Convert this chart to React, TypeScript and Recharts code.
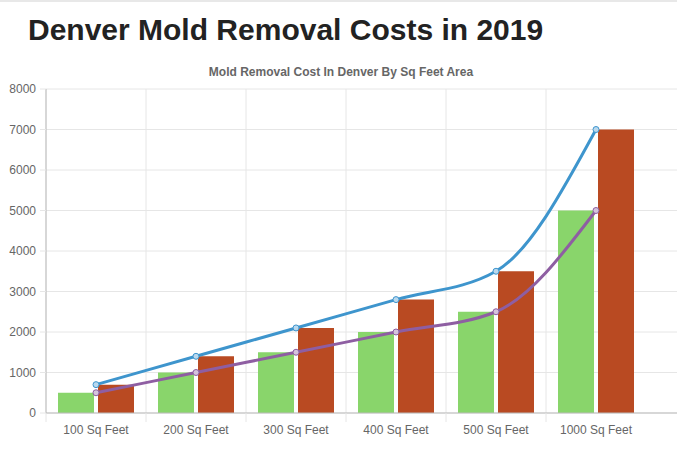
import React from "react";
import {
  ComposedChart,
  Bar,
  Line,
  XAxis,
  YAxis,
  CartesianGrid,
} from "recharts";

// values
const categories = [
  "100 Sq Feet",
  "200 Sq Feet",
  "300 Sq Feet",
  "400 Sq Feet",
  "500 Sq Feet",
  "1000 Sq Feet",
];
const lowCost = [500, 1000, 1500, 2000, 2500, 5000];
const highCost = [700, 1400, 2100, 2800, 3500, 7000];
const yTicks = [0, 1000, 2000, 3000, 4000, 5000, 6000, 7000, 8000];

const data = categories.map((name, i) => ({
  name,
  low: lowCost[i],
  high: highCost[i],
  lowLine: lowCost[i],
  highLine: highCost[i],
}));

const FONT = "'Liberation Sans', Arial, Helvetica, sans-serif";
const GRID = "#e6e6e6";
const PAD_RIGHT = 31;
const TICK_SIZE = 9;
const TICK_MARGIN = 3;

const EdgeTick = (props: any) => {
  const { x, y, payload } = props;
  const half = payload?.offset ?? 0;
  const top = y - TICK_SIZE - TICK_MARGIN;
  return (
    <g>
      <line x1={x - half} x2={x - half} y1={top} y2={top + TICK_SIZE} stroke={GRID} />
      <text
        x={x}
        y={y}
        dy="0.71em"
        textAnchor="middle"
        fill="#666"
        fontSize={12}
        fontFamily={FONT}
      >
        {payload.value}
      </text>
    </g>
  );
};

const App = () => {
  return (
    <div
      style={{
        position: "absolute",
        left: 0,
        top: 0,
        width: 677,
        height: 454,
        background: "#fff",
        overflow: "hidden",
        borderTop: "2px solid #e8e8e8",
        boxSizing: "border-box",
        fontFamily: FONT,
      }}
    >
      <div
        style={{
          position: "absolute",
          left: 28,
          top: 13,
          fontSize: 30,
          lineHeight: "30px",
          fontWeight: 700,
          color: "#222",
          whiteSpace: "nowrap",
        }}
      >
        Denver Mold Removal Costs in 2019
      </div>
      <div
        style={{
          position: "absolute",
          left: 0,
          width: 682,
          top: 64,
          fontSize: 12,
          lineHeight: "12px",
          fontWeight: 700,
          color: "#666",
          textAlign: "center",
        }}
      >
        Mold Removal Cost In Denver By Sq Feet Area
      </div>
      <div style={{ position: "absolute", left: 0, top: -2 }}>
        <ComposedChart
          width={677}
          height={454}
          data={data}
          margin={{ top: 89, right: 0, bottom: 0, left: 0 }}
          barCategoryGap="12%"
          barGap={4}
        >
          <CartesianGrid
            stroke={GRID}
            verticalCoordinatesGenerator={({ offset }: any) =>
              categories.map(
                (_, i) =>
                  offset.left + (i * (offset.width - PAD_RIGHT)) / categories.length
              )
            }
          />
          <XAxis
            dataKey="name"
            height={41}
            padding={{ left: 0, right: PAD_RIGHT }}
            tickLine={false}
            tickSize={TICK_SIZE}
            tickMargin={TICK_MARGIN}
            axisLine={{ stroke: "#bbb" }}
            tick={<EdgeTick />}
            interval={0}
          />
          <YAxis
            width={46}
            domain={[0, 8000]}
            ticks={yTicks}
            interval={0}
            tickSize={6}
            tickMargin={4}
            tickLine={{ stroke: GRID }}
            axisLine={{ stroke: "#bbb" }}
            tick={{ fill: "#666", fontSize: 12, fontFamily: FONT }}
          />
          <Bar dataKey="low" fill="#89d56b" isAnimationActive={false} />
          <Bar dataKey="high" fill="#b94a22" isAnimationActive={false} />
          <Line
            dataKey="highLine"
            type="monotone"
            stroke="#3e95cd"
            strokeWidth={3}
            dot={{ r: 3, fill: "#b9d8ee", stroke: "#3e95cd", strokeWidth: 1 }}
            isAnimationActive={false}
          />
          <Line
            dataKey="lowLine"
            type="monotone"
            stroke="#8e5ea2"
            strokeWidth={3}
            dot={{ r: 3, fill: "#d5c4dc", stroke: "#8e5ea2", strokeWidth: 1 }}
            isAnimationActive={false}
          />
        </ComposedChart>
      </div>
    </div>
  );
};

export default App;
